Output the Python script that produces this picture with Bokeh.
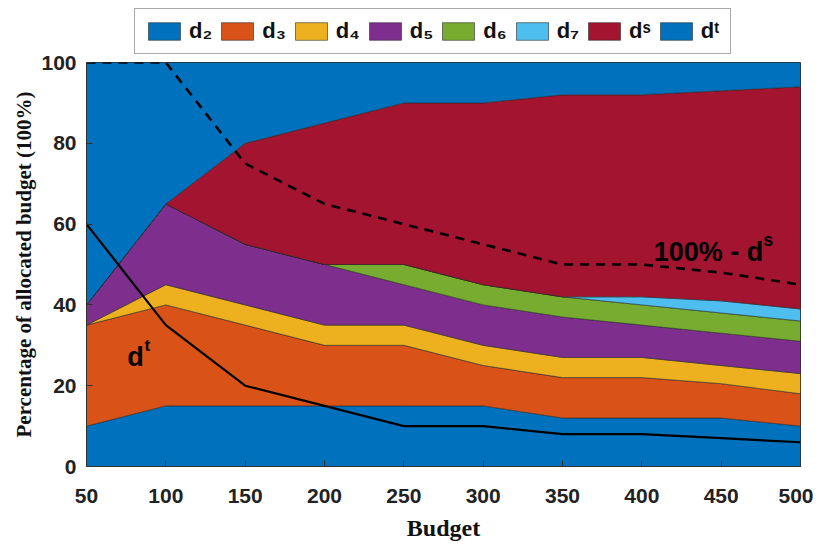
from bokeh.plotting import figure
from bokeh.layouts import column
from bokeh.models import ColumnDataSource, Legend, LegendItem, Range1d, FixedTicker
from bokeh.embed import file_html
from bokeh.resources import INLINE
from bokeh.core.properties import value

budget = [50, 100, 150, 200, 250, 300, 350, 400, 450, 500]
d2 = [10, 15, 15, 15, 15, 15, 12, 12, 12, 10]
d3 = [25, 25, 20, 15, 15, 10, 10, 10, 8.5, 8]
d4 = [0, 5, 5, 5, 5, 5, 5, 5, 4.5, 5]
d5 = [5, 20, 15, 15, 10, 10, 10, 8, 8, 8]
d6 = [0, 0, 0, 0, 5, 5, 5, 5, 5, 5]
d7 = [0, 0, 0, 0, 0, 0, 0, 2, 3, 3]
ds = [0, 0, 25, 35, 40, 45, 50, 50, 52, 55]
dt = [60, 35, 20, 15, 10, 10, 8, 8, 7, 6]

series = [d2, d3, d4, d5, d6, d7, ds, dt]
labels = ["d\u2082", "d\u2083", "d\u2084", "d\u2085", "d\u2086", "d\u2087", "d\u02e2", "d\u1d57"]
colors = ["#0072BD", "#D95319", "#EDB120", "#7E2F8E", "#77AC30", "#4DBEEE", "#A2142F", "#0072BD"]
x_ticks = [50, 100, 150, 200, 250, 300, 350, 400, 450, 500]
y_ticks = [0, 20, 40, 60, 80, 100]


def draw_areas(fig):
    bottom = [0.0] * len(budget)
    rs = []
    for vals, c in zip(series, colors):
        top = [b + v for b, v in zip(bottom, vals)]
        xs = list(budget) + list(reversed(budget))
        ys = top + list(reversed(bottom))
        rs.append(fig.patch(x=xs, y=ys, fill_color=c, line_color="#2a2a2a",
                            line_width=0.7, line_alpha=0.85))
        bottom = top
    return rs


p = figure(width=813, height=489, output_backend="svg", toolbar_location=None,
           x_range=Range1d(50, 500), y_range=Range1d(0, 100),
           min_border_left=86, min_border_right=13, min_border_top=8,
           min_border_bottom=77)
p.background_fill_color = "white"
p.outline_line_color = "#303030"
p.outline_line_width = 1
p.grid.visible = False

draw_areas(p)

src = ColumnDataSource(dict(budget=budget, dt=dt, rest=[100 - v for v in ds]))
p.line(x="budget", y="dt", source=src, color="black", line_width=2.2)
p.line(x="budget", y="rest", source=src, color="black", line_width=2.6, line_dash="9 7")

font = "Liberation Sans"
p.text(x=[86], y=[27], text=["d"], text_font=value(font), text_font_style="bold",
       text_font_size="27px", text_color="black", text_align="right",
       text_baseline="alphabetic")
p.text(x=[86], y=[27], text=["t"], text_font=value(font), text_font_style="bold",
       text_font_size="17px", text_color="black", text_align="left",
       text_baseline="alphabetic", x_offset=1, y_offset=-12)
p.text(x=[476.5], y=[53], text=["100% - d"], text_font=value(font), text_font_style="bold",
       text_font_size="27px", text_color="black", text_align="right",
       text_baseline="alphabetic")
p.text(x=[476.5], y=[53], text=["s"], text_font=value(font), text_font_style="bold",
       text_font_size="18px", text_color="black", text_align="left",
       text_baseline="alphabetic", x_offset=0, y_offset=-12)

for ax in (p.xaxis[0], p.yaxis[0]):
    ax.major_tick_in = 6
    ax.major_tick_out = 0
    ax.minor_tick_in = 0
    ax.minor_tick_out = 0
    ax.axis_line_color = "#303030"
    ax.major_tick_line_color = "#303030"
    ax.major_label_text_font = font
    ax.major_label_text_font_style = "bold"
    ax.major_label_text_font_size = "21px"
    ax.major_label_text_color = "#222222"
    ax.axis_label_text_font = "Liberation Serif"
    ax.axis_label_text_font_style = "bold"
    ax.axis_label_text_color = "#111111"

p.xaxis[0].ticker = FixedTicker(ticks=x_ticks)
p.yaxis[0].ticker = FixedTicker(ticks=y_ticks)
p.xaxis[0].axis_label = "Budget"
p.yaxis[0].axis_label = "Percentage of allocated budget (100%)"
p.xaxis[0].axis_label_text_font_size = "24px"
p.yaxis[0].axis_label_text_font_size = "21px"
p.xaxis[0].major_label_standoff = 22
p.yaxis[0].major_label_standoff = 10
p.xaxis[0].axis_label_standoff = 9
p.yaxis[0].axis_label_standoff = 2

# legend strip above the axes (its own swatch renderers lie outside its view)
lg = figure(width=813, height=54, output_backend="svg", toolbar_location=None,
            x_range=Range1d(1000, 1001), y_range=Range1d(1000, 1001),
            x_axis_type=None, y_axis_type=None, min_border=0)
lg.outline_line_color = None
lg.grid.visible = False
lg_renderers = draw_areas(lg)
legend = Legend(items=[LegendItem(label=l, renderers=[r])
                       for l, r in zip(labels, lg_renderers)],
                orientation="horizontal", location=(48, 0))
legend.glyph_width = 40
legend.glyph_height = 22
legend.label_standoff = 5
legend.spacing = 5
legend.padding = 9
legend.margin = 0
legend.label_text_font = font
legend.label_text_font_style = "bold"
legend.label_text_font_size = "22px"
legend.label_text_color = "#111111"
legend.border_line_color = "#555555"
legend.border_line_width = 1
legend.background_fill_color = "white"
legend.background_fill_alpha = 1
lg.add_layout(legend, "center")

layout = column(lg, p, spacing=0)
open("out.html", "w").write(file_html(layout, INLINE))
